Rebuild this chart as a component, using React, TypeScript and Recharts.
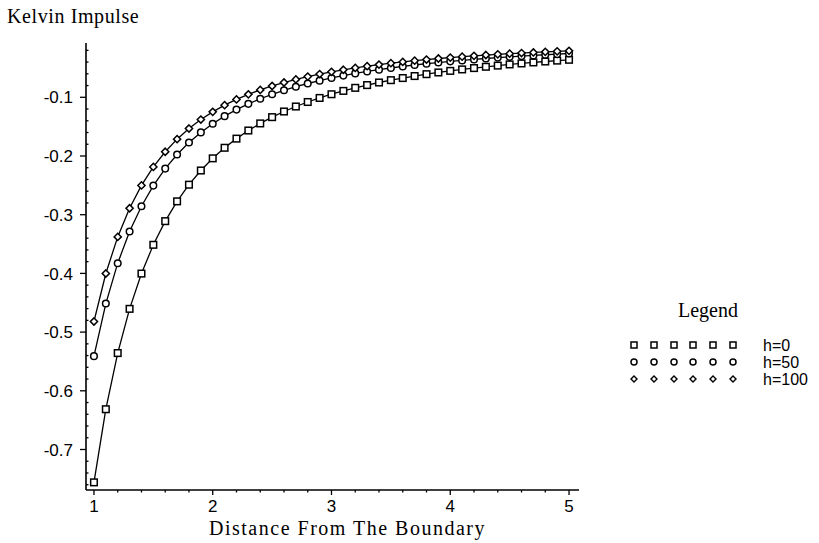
import React from 'react';
import { LineChart, Line, XAxis, YAxis, Legend } from 'recharts';

const xs = [1.0, 1.1, 1.2, 1.3, 1.4, 1.5, 1.6, 1.7, 1.8, 1.9, 2.0, 2.1, 2.2, 2.3, 2.4, 2.5, 2.6, 2.7, 2.8, 2.9, 3.0, 3.1, 3.2, 3.3, 3.4, 3.5, 3.6, 3.7, 3.8, 3.9, 4.0, 4.1, 4.2, 4.3, 4.4, 4.5, 4.6, 4.7, 4.8, 4.9, 5.0];

const h0 = [-0.756, -0.6314, -0.5357, -0.4604, -0.4003, -0.3513, -0.3110, -0.2773, -0.2489, -0.2247, -0.2040, -0.1860, -0.1704, -0.1566, -0.1445, -0.1338, -0.1242, -0.1157, -0.1080, -0.1011, -0.0948, -0.0891, -0.0839, -0.0792, -0.0748, -0.0708, -0.0672, -0.0638, -0.0606, -0.0577, -0.0550, -0.0525, -0.0502, -0.0480, -0.0460, -0.0440, -0.0423, -0.0406, -0.0390, -0.0375, -0.0361];

const h50 = [-0.541, -0.4514, -0.3826, -0.3286, -0.2855, -0.2504, -0.2215, -0.1974, -0.1771, -0.1598, -0.1450, -0.1321, -0.1210, -0.1112, -0.1025, -0.0949, -0.0881, -0.0820, -0.0765, -0.0716, -0.0671, -0.0630, -0.0593, -0.0560, -0.0529, -0.0501, -0.0474, -0.0450, -0.0428, -0.0408, -0.0388, -0.0371, -0.0354, -0.0339, -0.0324, -0.0311, -0.0298, -0.0286, -0.0275, -0.0264, -0.0254];

const h100 = [-0.482, -0.4002, -0.3378, -0.2890, -0.2501, -0.2186, -0.1928, -0.1713, -0.1532, -0.1379, -0.1248, -0.1134, -0.1036, -0.0950, -0.0874, -0.0807, -0.0748, -0.0695, -0.0647, -0.0604, -0.0566, -0.0531, -0.0499, -0.0470, -0.0443, -0.0419, -0.0397, -0.0376, -0.0357, -0.0339, -0.0323, -0.0308, -0.0294, -0.0280, -0.0268, -0.0257, -0.0246, -0.0236, -0.0226, -0.0217, -0.0209];

const seriesNames = ['h=0', 'h=50', 'h=100'];

const xMajorTicks = [1, 2, 3, 4, 5];
const xAllTicks = [1, 1.2, 1.4, 1.6, 1.8, 2, 2.2, 2.4, 2.6, 2.8, 3, 3.2, 3.4, 3.6, 3.8, 4, 4.2, 4.4, 4.6, 4.8, 5];
const yMajorTicks = [-0.7, -0.6, -0.5, -0.4, -0.3, -0.2, -0.1];
const yAllTicks = [-0.76, -0.74, -0.72, -0.7, -0.68, -0.66, -0.64, -0.62, -0.6, -0.58, -0.56, -0.54, -0.52, -0.5, -0.48, -0.46, -0.44, -0.42, -0.4, -0.38, -0.36, -0.34, -0.32, -0.3, -0.28, -0.26, -0.24, -0.22, -0.2, -0.18, -0.16, -0.14, -0.12, -0.1, -0.08, -0.06, -0.04, -0.02];

const xTitle = 'Distance From The Boundary';
const yTitle = 'Kelvin Impulse';
const legendTitle = 'Legend';

const data = xs.map((x, i) => ({ x, h0: h0[i], h50: h50[i], h100: h100[i] }));

const SANS = '"Liberation Sans", Arial, sans-serif';
const SERIF = '"Liberation Serif", "Times New Roman", serif';

const isMajor = (v: number, majors: number[]) => majors.some((m) => Math.abs(m - v) < 1e-6);

const XTick = (props: any) => {
  const { x, y, payload } = props;
  const major = isMajor(payload.value, xMajorTicks);
  return (
    <g>
      <line x1={x} x2={x} y1={y} y2={y + (major ? 5 : 2.5)} stroke="#000" strokeWidth={1.3} />
      {major && (
        <text x={x} y={y + 10} dy="0.72em" textAnchor="middle" fontFamily={SANS} fontSize={17} fill="#000">
          {String(payload.value)}
        </text>
      )}
    </g>
  );
};

const YTick = (props: any) => {
  const { x, y, payload } = props;
  const major = isMajor(payload.value, yMajorTicks);
  return (
    <g>
      {major ? (
        <line x1={x - 6} x2={x} y1={y} y2={y} stroke="#000" strokeWidth={1.3} />
      ) : (
        <line x1={x} x2={x + 2.5} y1={y} y2={y} stroke="#000" strokeWidth={1.3} />
      )}
      {major && (
        <text x={x - 13} y={y} dy="0.36em" textAnchor="end" fontFamily={SANS} fontSize={17} fill="#000">
          {payload.value.toFixed(1)}
        </text>
      )}
    </g>
  );
};

const SquareDot = (props: any) => {
  const { cx, cy, index } = props;
  if (cx == null || cy == null) return <g key={`sq${index}`} />;
  return <rect key={`sq${index}`} x={cx - 3.3} y={cy - 3.3} width={6.6} height={6.6} fill="#fff" stroke="#000" strokeWidth={1.5} />;
};

const CircleDot = (props: any) => {
  const { cx, cy, index } = props;
  if (cx == null || cy == null) return <g key={`ci${index}`} />;
  return <circle key={`ci${index}`} cx={cx} cy={cy} r={3.3} fill="#fff" stroke="#000" strokeWidth={1.5} />;
};

const DiamondDot = (props: any) => {
  const { cx, cy, index } = props;
  if (cx == null || cy == null) return <g key={`di${index}`} />;
  return (
    <polygon
      key={`di${index}`}
      points={`${cx},${cy - 3.6} ${cx + 3.6},${cy} ${cx},${cy + 3.6} ${cx - 3.6},${cy}`}
      fill="#fff"
      stroke="#000"
      strokeWidth={1.5}
    />
  );
};

const legendXs = [14, 34, 54, 73, 93, 113];
const legendRows = [55, 72, 89];

const LegendContent = () => (
  <svg width={200} height={110} style={{ display: 'block' }}>
    <text x={88} y={27} textAnchor="middle" fontFamily={SERIF} fontSize={20} fill="#000">
      {legendTitle}
    </text>
    {legendRows.map((ry, r) => (
      <g key={r}>
        {legendXs.map((lx, k) =>
          r === 0 ? (
            <rect key={k} x={lx - 3} y={ry - 3} width={6} height={6} fill="#fff" stroke="#000" strokeWidth={1.5} />
          ) : r === 1 ? (
            <circle key={k} cx={lx} cy={ry} r={3} fill="#fff" stroke="#000" strokeWidth={1.5} />
          ) : (
            <polygon key={k} points={`${lx},${ry - 3} ${lx + 3},${ry} ${lx},${ry + 3} ${lx - 3},${ry}`} fill="#fff" stroke="#000" strokeWidth={1.4} />
          )
        )}
        <text x={143} y={ry} dy="0.36em" fontFamily={SANS} fontSize={16} fill="#000">
          {seriesNames[r]}
        </text>
      </g>
    ))}
  </svg>
);

export default function App() {
  return (
    <div style={{ position: 'absolute', left: 0, top: 0, width: 819, height: 543, background: '#fff' }}>
      <LineChart width={819} height={543} data={data} margin={{ top: 43, right: 240, bottom: 0, left: 0 }}>
        <XAxis
          dataKey="x"
          type="number"
          domain={[0.933, 5.084]}
          ticks={xAllTicks}
          interval={0}
          allowDataOverflow
          height={53}
          tickSize={0}
          tickMargin={0}
          tickLine={false}
          tick={<XTick />}
          axisLine={{ stroke: '#000', strokeWidth: 1.6 }}
          label={{
            content: (p: any) => {
              const vb = p.viewBox || {};
              return (
                <text
                  x={(vb.x || 0) + (vb.width || 0) / 2 + 15}
                  y={535}
                  textAnchor="middle"
                  fontFamily={SERIF}
                  fontSize={20}
                  letterSpacing={1.5}
                  fill="#000"
                >
                  {xTitle}
                </text>
              );
            },
          }}
        />
        <YAxis
          type="number"
          domain={[-0.769, -0.0075]}
          ticks={yAllTicks}
          interval={0}
          allowDataOverflow
          width={86}
          tickSize={0}
          tickMargin={0}
          tickLine={false}
          tick={<YTick />}
          axisLine={{ stroke: '#000', strokeWidth: 1.6 }}
          label={{
            content: () => (
              <text x={7} y={23} fontFamily={SERIF} fontSize={20} letterSpacing={0.6} fill="#000">
                {yTitle}
              </text>
            ),
          }}
        />
        <Legend
          layout="horizontal"
          verticalAlign="middle"
          align="center"
          content={<LegendContent />}
          wrapperStyle={{ position: 'absolute', left: 620, top: 290, width: 200, height: 110 }}
        />
        <Line dataKey="h0" name={seriesNames[0]} stroke="#000" strokeWidth={1.3} dot={SquareDot} isAnimationActive={false} />
        <Line dataKey="h50" name={seriesNames[1]} stroke="#000" strokeWidth={1.3} dot={CircleDot} isAnimationActive={false} />
        <Line dataKey="h100" name={seriesNames[2]} stroke="#000" strokeWidth={1.3} dot={DiamondDot} isAnimationActive={false} />
      </LineChart>
    </div>
  );
}
